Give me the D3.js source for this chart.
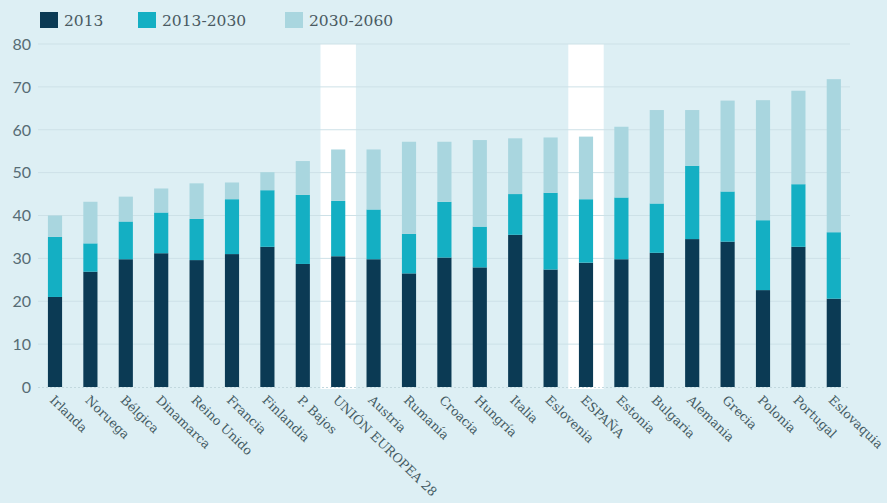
<!DOCTYPE html>
<html>
<head>
<meta charset="utf-8">
<script src="https://cdn.jsdelivr.net/npm/d3@7"></script>
<style>
  html, body { margin: 0; padding: 0; background: #ddeff4; }
  svg { display: block; }
</style>
</head>
<body>
<svg id="chart" width="887" height="503"></svg>
<script>
const categories = ["Irlanda","Noruega","Bélgica","Dinamarca","Reino Unido","Francia","Finlandia","P. Bajos","UNIÓN EUROPEA 28","Austria","Rumanía","Croacia","Hungría","Italia","Eslovenia","ESPAÑA","Estonia","Bulgaria","Alemania","Grecia","Polonia","Portugal","Eslovaquia"];
const highlighted = ["UNIÓN EUROPEA 28","ESPAÑA"];
const seriesNames = ["2013","2013-2030","2030-2060"];
const v2013     = [21.0,26.9,29.8,31.2,29.6,31.0,32.7,28.7,30.5,29.8,26.5,30.2,27.9,35.5,27.4,29.0,29.8,31.3,34.5,33.9,22.6,32.7,20.6];
const v2013_2030 = [14.0,6.6,8.8,9.5,9.6,12.8,13.2,16.1,12.9,11.6,9.2,13.0,9.5,9.5,17.9,14.8,14.4,11.5,17.1,11.7,16.3,14.6,15.5];
const v2030_2060 = [5.0,9.7,5.8,5.6,8.3,3.9,4.2,7.9,12.0,14.0,21.5,14.0,20.2,13.0,12.9,14.6,16.5,21.8,13.0,21.2,28.0,21.8,35.7];
const yTicks = [0,10,20,30,40,50,60,70,80];

const colors = ["#0b3a54","#14afc3","#a9d6df"];

const rows = categories.map((c,i) => ({cat:c, "2013":v2013[i], "2013-2030":v2013_2030[i], "2030-2060":v2030_2060[i]}));
const stacked = d3.stack().keys(seriesNames)(rows);

const svg = d3.select("#chart");
const x = d3.scaleBand().domain(categories).range([37.3, 851.5]).padding(0);
const y = d3.scaleLinear().domain([0,80]).range([387,44]);
const barW = x.bandwidth()*0.4;

// highlight columns
svg.append("g").selectAll("rect").data(highlighted).join("rect")
  .attr("x", d => x(d)).attr("width", x.bandwidth())
  .attr("y", y(80)).attr("height", y(0)-y(80)+2)
  .attr("fill", "#ffffff");

// gridlines
svg.append("g").selectAll("line").data(yTicks.filter(t=>t>0)).join("line")
  .attr("x1", 38).attr("x2", 850)
  .attr("y1", d => y(d)).attr("y2", d => y(d))
  .attr("stroke", "#cde1e7").attr("stroke-width", 1);
svg.append("line").attr("x1",38).attr("x2",850).attr("y1",y(0)+0.5).attr("y2",y(0)+0.5)
  .attr("stroke","#c2d8de").attr("stroke-dasharray","2,2");

// y tick labels
svg.append("g").selectAll("text").data(yTicks).join("text")
  .attr("x", 31).attr("y", d => y(d)).attr("dy","0.36em")
  .attr("text-anchor","end")
  .attr("font-family","Lato, 'Open Sans', sans-serif").attr("font-size", 16)
  .attr("fill","#566c74")
  .text(d => d);

// bars
svg.append("g").selectAll("g").data(stacked).join("g")
  .attr("fill", (d,i) => colors[i])
  .selectAll("rect").data(d => d).join("rect")
  .attr("x", d => x(d.data.cat) + (x.bandwidth()-barW)/2)
  .attr("width", barW)
  .attr("y", d => y(d[1]))
  .attr("height", d => y(d[0]) - y(d[1]));

// x labels
svg.append("g").selectAll("text").data(categories).join("text")
  .attr("transform", d => `translate(${x(d)+x.bandwidth()/2-6},401) rotate(44)`)
  .attr("text-anchor","start")
  .attr("font-family","'DejaVu Serif', serif").attr("font-size", 12.6)
  .attr("fill","#445b63")
  .text(d => d);

// legend
const legendX = [40, 138, 285];
const lg = svg.append("g").selectAll("g").data(seriesNames).join("g")
  .attr("transform", (d,i) => `translate(${legendX[i]},12)`);
lg.append("rect").attr("width",18).attr("height",16).attr("fill",(d,i)=>colors[i]);
lg.append("text").attr("x",24).attr("y",8).attr("dy","0.36em")
  .attr("font-family","'DejaVu Serif', serif").attr("font-size",15.5)
  .attr("fill","#4a5a62").text(d=>d);
</script>
</body>
</html>
